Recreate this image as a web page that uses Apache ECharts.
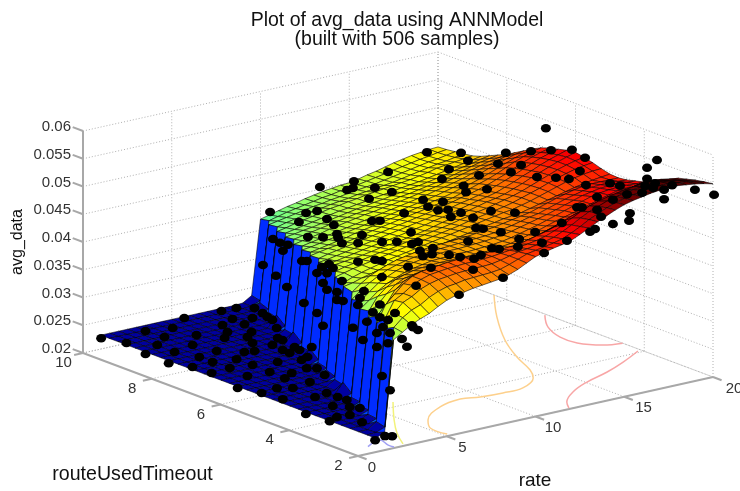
<!DOCTYPE html>
<html><head><meta charset="utf-8">
<style>html,body{margin:0;padding:0;background:#fff}#c{width:740px;height:491px}</style>
<script src="https://cdn.jsdelivr.net/npm/echarts@6/dist/echarts.min.js"></script>
</head><body><div id="c"></div>
<script>
const rateTicks=[0,5,10,15,20];
const timeoutTicks=[2,4,6,8,10];
const valueTicks=[0.02,0.025,0.03,0.035,0.04,0.045,0.05,0.055,0.06];
const rates=[1,1.5,2,2.5,3,3.5,4,4.5,5,5.5,6,6.5,7,7.5,8,8.5,9,9.5,10,10.5,11,11.5,12,12.5,13,13.5,14,14.5,15,15.5,16,16.5,17,17.5,18,18.5,19,19.5,20];
const timeouts=[2,2.25,2.5,2.75,3,3.25,3.5,3.75,4,4.25,4.5,4.75,5,5.25,5.5,5.75,6,6.25,6.5,6.75,7,7.25,7.5,7.75,8,8.25,8.5,8.75,9,9.25,9.5,9.75,10];
// avg_data x 10000, one row per timeout, one column per rate
const surfaceE4=[
[225,232,395,405,415,422,428,437,445,450,453,456,458,460,462,466,472,480,488,492,496,499,503,510,518,526,533,540,546,550,553,556,558,559,559,557,555,552,548],
[225,226,232,408,422,432,438,448,455,460,462,465,466,467,468,470,475,481,487,490,493,496,500,507,515,524,531,538,544,548,551,554,556,557,557,555,553,549,546],
[225,225,236,400,425,440,447,457,463,467,469,471,472,473,473,474,477,481,485,487,490,493,497,504,512,521,529,535,541,545,548,551,553,554,554,552,549,546,543],
[225,225,226,232,410,438,447,458,465,470,472,474,475,476,476,477,478,480,482,484,486,489,493,499,506,515,523,530,535,539,542,545,547,549,549,547,544,541,539],
[225,225,226,234,395,425,440,455,465,470,472,474,476,477,477,477,477,478,478,479,480,484,488,492,497,504,510,515,518,520,522,527,532,538,542,542,540,537,535],
[225,225,225,226,232,398,415,438,450,456,459,461,462,463,463,463,463,463,464,465,466,468,472,477,483,488,493,498,502,505,508,513,519,524,529,529,528,524,522],
[225,225,225,225,236,390,408,425,438,446,449,452,453,454,455,455,455,455,456,456,457,459,462,466,470,475,480,485,489,492,496,501,506,511,516,517,515,513,512],
[225,225,225,225,226,232,392,415,428,438,443,447,449,450,451,451,451,451,452,452,453,455,457,461,465,469,474,479,483,487,491,496,501,505,509,510,509,508,507],
[225,225,225,225,226,234,390,402,415,425,432,438,442,445,448,449,449,450,450,451,452,453,455,458,462,466,470,475,480,485,490,495,500,503,505,506,506,505,505],
[225,225,225,225,225,226,232,395,408,420,428,435,440,443,446,448,449,450,450,451,452,453,455,457,460,464,468,472,476,481,486,491,496,499,502,503,503,502,501],
[225,225,225,225,225,226,246,392,405,415,424,431,436,440,443,445,447,448,449,450,451,452,453,455,458,461,465,469,472,477,482,487,491,495,498,499,499,498,497],
[225,225,225,225,225,225,226,232,396,408,418,425,431,436,439,442,444,446,447,448,449,450,452,454,456,459,462,465,468,473,478,483,487,491,494,495,495,495,495],
[225,225,225,225,225,225,226,236,400,403,408,412,415,418,422,425,428,431,434,437,440,443,446,449,452,455,458,460,462,466,470,474,478,482,486,489,492,494,496],
[225,225,225,225,225,225,225,226,232,398,404,409,413,417,421,424,427,430,433,436,439,442,445,448,451,454,457,460,462,466,470,475,480,485,490,494,497,499,500],
[225,225,225,225,225,225,225,226,238,402,406,410,413,416,419,422,425,428,430,433,436,439,442,445,449,452,455,458,461,465,470,475,480,486,491,496,500,503,505],
[225,225,225,225,225,225,225,225,226,232,403,407,410,413,416,419,421,424,427,430,433,436,439,442,446,449,453,456,460,464,468,473,479,485,491,497,502,506,509],
[225,225,225,225,225,225,225,225,226,236,404,406,408,410,412,415,418,420,422,425,428,431,435,439,442,446,450,454,458,461,465,471,477,484,490,496,502,507,512],
[225,225,225,225,225,225,225,225,225,226,232,400,403,406,409,412,415,418,420,423,426,429,432,436,439,443,447,451,455,458,462,468,474,481,487,494,500,505,510],
[225,225,225,225,225,225,225,225,225,226,246,398,400,403,406,409,412,415,418,421,424,427,430,433,436,440,444,448,451,455,459,465,471,477,484,491,497,502,506],
[225,225,225,225,225,225,225,225,225,225,226,232,396,400,403,406,409,412,415,418,421,424,427,430,433,437,441,444,448,452,456,461,467,473,480,487,493,498,502],
[225,225,225,225,225,225,225,225,225,225,226,234,395,398,401,403,405,408,412,415,418,421,424,427,430,433,436,439,442,447,452,457,462,468,475,482,488,493,497],
[225,225,225,225,225,225,225,225,225,225,225,226,232,392,395,398,401,404,408,411,414,417,420,423,426,429,432,435,438,442,447,451,456,462,468,474,480,485,489],
[225,225,225,225,225,225,225,225,225,225,225,226,246,390,392,395,398,401,404,407,410,413,416,419,422,425,428,431,434,438,442,446,451,456,462,467,472,477,480],
[225,225,225,225,225,225,225,225,225,225,225,225,226,232,388,391,394,397,400,403,406,409,412,415,418,421,424,427,430,434,437,441,445,450,455,459,464,468,471],
[225,225,225,225,225,225,225,225,225,225,225,225,226,235,385,388,391,394,398,401,404,407,410,412,415,417,420,423,426,429,432,436,440,444,448,452,456,459,462],
[225,225,225,225,225,225,225,225,225,225,225,225,225,226,232,385,388,391,394,397,400,403,406,408,411,413,416,419,421,424,427,430,433,437,441,445,449,452,455],
[225,225,225,225,225,225,225,225,225,225,225,225,225,226,246,383,385,388,390,393,396,399,402,405,407,410,412,415,417,420,422,425,428,431,435,438,441,445,448],
[225,225,225,225,225,225,225,225,225,225,225,225,225,225,226,232,381,384,387,390,393,396,399,401,404,406,409,411,413,416,418,420,423,426,429,432,435,438,441],
[225,225,225,225,225,225,225,225,225,225,225,225,225,225,226,236,378,381,385,388,391,395,398,400,403,405,408,410,412,414,416,418,421,424,428,430,432,434,436],
[225,225,225,225,225,225,225,225,225,225,225,225,225,225,225,226,232,377,381,384,387,390,393,396,398,400,403,405,407,409,411,414,417,420,423,426,428,431,434],
[225,225,225,225,225,225,225,225,225,225,225,225,225,225,225,226,238,375,378,381,384,387,390,392,395,397,400,402,404,406,409,412,415,418,421,424,426,429,432],
[225,225,225,225,225,225,225,225,225,225,225,225,225,225,225,225,226,232,373,377,381,384,387,390,393,395,398,400,402,405,408,411,414,417,420,423,425,428,430],
[225,225,225,225,225,225,225,225,225,225,225,225,225,225,225,225,226,236,370,374,378,382,385,389,392,395,397,399,400,403,407,410,414,418,421,424,426,428,429]
];
// samples near the floor: [rate, timeout, avg_data x 10000]
const floorSamples=[[0.73,9.85,225],[1.17,9.34,225],[2.98,9.72,225],[2.07,8.91,225],[0.81,8.6,225],[4.22,9.57,225],[3.08,9.22,225],[5.57,9.93,225],[4.4,8.97,225],[2.02,8.38,225],[3.31,8.52,225],[7.55,9.87,225],[8.35,9.85,225],[7.18,9.36,225],[6.25,9.17,225],[7.12,8.98,225],[9,9.66,225],[7.98,9.19,225],[8.8,9.32,225],[8.6,9.08,225],[8.5,8.88,225],[7.89,8.44,225],[5.78,8.78,225],[6.63,8.52,225],[5.11,8.52,225],[6.01,8.32,225],[5.62,7.97,225],[3.6,7.97,225],[2.43,7.87,225],[4.48,7.62,225],[4.94,7.56,225],[6.14,7.66,225],[6.98,7.94,225],[6.96,7.79,225],[6.02,7.3,225],[5.99,7.08,225],[6.73,7.32,225],[6.62,7.12,225],[7.33,7.13,225],[0.76,7.9,225],[1.23,7.45,225],[1.34,6.95,225],[2.42,7.48,225],[2.46,7,225],[3.54,7.36,225],[0.85,5.94,225],[2.33,6.42,225],[1.23,5.44,225],[3.49,6.37,225],[3.55,6.9,225],[4.71,6.77,225],[2.23,5.51,225],[1.4,4.91,225],[3.45,5.91,225],[4.17,6.08,225],[5.75,6.61,225],[6.24,6.69,225],[5.17,6.16,225],[5.53,6.05,225],[5.15,5.63,225],[2.8,5.34,225],[3.97,5.45,225],[0.8,3.93,225],[0.98,3.33,225],[2.73,4.66,225],[3.52,4.73,225],[3.54,4.42,225],[2.51,4.03,225],[3.57,4.17,225],[3.02,3.8,225],[1.62,3.45,225],[2.27,3.41,225],[3.28,3.64,225],[2.03,2.93,225],[0.79,1.91,225],[1.52,2,225],[1.77,1.92,225]];
// samples along the step where rate meets timeout
const stepSamples=[[9.25,9.25,357],[8.83,8.83,363],[8.35,8.35,374],[8.65,8.65,354],[9.85,9.85,292],[9.07,9.07,296],[8.41,8.41,296],[7.51,7.51,370],[7.21,7.21,379],[6.3,6.3,396],[5.88,5.88,414],[5.64,5.64,414],[6.6,6.6,376],[6,6,394],[6.24,6.24,369],[5.1,5.1,407],[6,6,364],[5.4,5.4,378],[5.4,5.4,364],[5.04,5.04,373],[7.39,7.39,298],[6.6,6.6,304],[6.24,6.24,292],[4.44,4.44,343],[3.84,3.84,339],[3,3,352],[2.33,2.33,379],[2.63,2.63,399],[3,3,377],[2.21,2.21,401],[2.69,2.69,309],[2.21,2.21,298],[3.6,3.6,379],[4.02,4.02,409],[4.14,4.14,393],[3.78,3.78,429],[3.24,3.24,407],[2.82,2.82,411],[2.33,2.33,421],[2.82,2.82,434],[1.91,1.91,446]];
// samples on and around the upper sheet
const upperSamples=[[11.41,9,441],[10.54,10,379],[13.33,9,438],[12.94,9,425],[13.27,9,426],[15.25,9,441],[13.54,8.5,436],[13.53,8,440],[12.24,8,437],[10.63,9,400],[11.25,9,399],[9.26,8.5,405],[10.84,8.5,399],[10.26,8,404],[10.92,7,430],[10.47,7,433],[9.47,7.5,405],[8.8,8,393],[8.68,7.5,405],[9.53,7.5,398],[8.78,7,405],[8.94,6.5,430],[7.75,6,436],[9.1,6,428],[8.97,5.5,441],[5.81,5,439],[6.77,5,436],[7.16,5,431],[5.22,4,439],[19.3,6.5,549],[19.38,10,424],[19.36,9,446],[19.75,9,429],[19.95,8,465],[19.43,7,495],[19.59,6.5,507],[19.8,6,518],[19.57,5.5,517],[19.75,3.5,558],[19.19,3.5,548],[19.19,3.5,528],[19.64,3.5,517],[19.08,3.5,516],[18.91,3.5,505],[19.53,3.5,509],[19.18,3,520],[19.63,3,525],[19.95,2.5,526],[20.06,2,528],[19.18,3,503],[19.03,4,490],[18.63,4,508],[19.04,4.5,498],[17.34,4,497],[18.65,5,486],[18.66,5.5,485],[18.9,6,474],[19.28,5.5,495],[17.83,6,483],[18.87,7,474],[18.3,7,465],[18.54,7.5,467],[17.47,7.5,454],[17.71,8.5,440],[17.32,8.5,425],[16.6,7.5,441],[15.77,7,447],[16.95,7,444],[14.32,7.5,432],[14.47,7,439],[13.63,7,436],[14.19,7,426],[13.79,6.5,441],[13.95,6.5,427],[13.55,6,449],[15.24,6,440],[15.62,5.5,446],[14.23,6,435],[13.43,5.5,434],[13.82,5.5,430],[13.86,5,435],[14.82,4.5,440],[13.92,4.5,434],[12.01,5,432],[12.39,4.5,428],[12.79,4.5,424],[12.88,4,439],[13.27,3.5,455],[12.42,3,454],[13.71,3,467],[15.36,4,464],[17.18,4.5,468],[17.46,4.5,466],[17.34,4,474],[16.6,3.5,478],[16.3,3,479],[15.01,3,474],[15.29,3,477],[16.29,2.5,510],[15.27,2,515],[17.27,3.5,504],[10.73,6,434],[12.28,7,434],[9.82,5.5,431],[10.16,5.5,432],[9.3,5,434],[10.03,5,434],[9.47,5,423],[9.98,5,423],[9.97,4.5,433],[10.59,4.5,425],[10.41,4,435],[10.8,4,439],[7.98,4,436],[6.69,4,447],[7.45,2.5,471],[4.24,2.5,465],[8.17,2,463],[5.69,2,450],[3.38,2,403],[3.1,2,410],[2.48,2,393],[2.76,2,377],[3.04,2,414]];
// contour lines on the floor: [rate, timeout]
const contourOrange=[[20,8.37],[18.03,7.27],[16.14,6.06],[14.96,5.1],[14.19,4.32],[13.55,3.9],[12.25,3.53],[11.07,3.5],[9.88,3.55],[8.99,3.67],[7.53,3.5],[5.86,2.99],[5.19,2.58],[5.22,2.1]];
const contourPinkBack=[[19.9,6.84],[18.88,6.22],[18.36,5.6],[18.41,5.13],[19.13,4.75],[20,4.63]];
const contourPinkFront=[[19.8,4.08],[18.23,3.7],[16.73,3.39],[15.07,3.12],[13.64,2.79],[12.48,2.37],[11.98,2.05]];
const contourYellow=[[6.33,4.25],[4.67,3.36],[3.55,2.7],[2.73,2.1]];
const contourBlue=[[1.24,2.35],[2.29,2.54],[2.09,2.2],[2.13,2.05]];

const VMIN=0.02, VMAX=0.06, CMIN=215, CMAX=545;
function project(rate,timeout,value){
  const a=rate/20,u=(timeout-2)/8,h=(value-VMIN)/(VMAX-VMIN);
  return [358+355*a-275*u,456-79*a-103*u-222*h];
}
function jet(n){
  const c=v=>Math.round(255*Math.max(0,Math.min(1,v)));
  return 'rgb('+c(Math.min(4*n-1.5,-4*n+4.5))+','+c(Math.min(4*n-0.5,-4*n+3.5))+','+c(Math.min(4*n+0.5,-4*n+2.5))+')';
}
// a face takes the colour of its first corner; faces on the step are lifted to the blues of the wall
function faceColour(i,j){
  const first=surfaceE4[i][j];
  const all=[first,surfaceE4[i][j+1],surfaceE4[i+1][j],surfaceE4[i+1][j+1]];
  const tall=Math.max.apply(null,all)-Math.min.apply(null,all)>60;
  const v=(tall&&first<300)?246+(first-225)*3.5:first;
  return jet((v-CMIN)/(CMAX-CMIN));
}
const cells=[];
for(let i=timeouts.length-2;i>=0;i--)for(let j=rates.length-2;j>=0;j--)cells.push([i,j]);

const RMAX=rateTicks[rateTicks.length-1],TMIN=timeoutTicks[0],TMAX=timeoutTicks[timeoutTicks.length-1],RMIN=rateTicks[0];
const gridLines=[];
valueTicks.forEach(v=>{gridLines.push([[RMIN,TMAX,v],[RMAX,TMAX,v]]);gridLines.push([[RMAX,TMAX,v],[RMAX,TMIN,v]]);});
rateTicks.forEach(r=>{gridLines.push([[r,TMAX,VMIN],[r,TMAX,VMAX]]);gridLines.push([[r,TMIN,VMIN],[r,TMAX,VMIN]]);});
timeoutTicks.forEach(t=>{gridLines.push([[RMAX,t,VMIN],[RMAX,t,VMAX]]);gridLines.push([[RMIN,t,VMIN],[RMAX,t,VMIN]]);});
const axisLines=[[[RMIN,TMAX,VMIN],[RMIN,TMAX,VMAX]],[[RMIN,TMIN,VMIN],[RMIN,TMAX,VMIN]],[[RMIN,TMIN,VMIN],[RMAX,TMIN,VMIN]]];
valueTicks.forEach(v=>axisLines.push([[RMIN,TMAX,v],[RMIN,TMAX+0.3,v]]));
timeoutTicks.forEach(t=>axisLines.push([[RMIN,t,VMIN],[RMIN-0.5,t,VMIN]]));
rateTicks.forEach(r=>axisLines.push([[r,TMIN,VMIN],[r,TMIN-0.25,VMIN]]));

const tickLabels=[];
valueTicks.forEach(v=>tickLabels.push({p:[RMIN,TMAX,v],s:String(v),dx:-12,dy:-4,al:'right'}));
timeoutTicks.forEach(t=>tickLabels.push({p:[RMIN,t,VMIN],s:String(t),dx:-19.5,dy:10,al:'center'}));
rateTicks.forEach(r=>tickLabels.push({p:[r,TMIN,VMIN],s:String(r),dx:14+0.35*r,dy:11.5,al:'center'}));

function segSeries(lines,style,z){
  return {type:'custom',coordinateSystem:'cartesian2d',silent:true,z:z,clip:false,animation:false,
    data:lines.map((l,i)=>[i,0]),
    renderItem:(params,api)=>{
      const l=lines[api.value(0)],a=api.coord(project(l[0][0],l[0][1],l[0][2])),b=api.coord(project(l[1][0],l[1][1],l[1][2]));
      return {type:'line',shape:{x1:a[0],y1:a[1],x2:b[0],y2:b[1]},style:style};
    }};
}
function contour(pts,color){
  return {type:'line',smooth:0.4,symbol:'none',silent:true,z:2,animation:false,lineStyle:{color:color,width:1.5},
    data:pts.map(p=>project(p[0],p[1],VMIN))};
}
const samples=floorSamples.concat(stepSamples,upperSamples);
const option={
  animation:false,backgroundColor:'#fff',
  grid:{left:0,right:0,top:0,bottom:0},
  xAxis:{type:'value',min:0,max:740,show:false},
  yAxis:{type:'value',min:0,max:491,inverse:true,show:false},
  title:{text:'Plot of avg_data using ANNModel\n(built with 506 samples)',left:392,top:6,textAlign:'center',
    textStyle:{fontFamily:'Liberation Sans',fontSize:19.5,fontWeight:'normal',color:'#111',lineHeight:19}},
  graphic:[
    {type:'text',x:18,y:242,rotation:Math.PI/2,style:{text:'avg_data',font:'16px "Liberation Sans"',fill:'#111',align:'center',verticalAlign:'middle'}},
    {type:'text',x:132.5,y:475,style:{text:'routeUsedTimeout',font:'19.6px "Liberation Sans"',fill:'#111',align:'center',verticalAlign:'middle'}},
    {type:'text',x:535,y:481,style:{text:'rate',font:'19px "Liberation Sans"',fill:'#111',align:'center',verticalAlign:'middle'}}
  ],
  series:[
    segSeries(gridLines,{stroke:'#b0b0b0',lineWidth:1,lineDash:[1,2]},1),
    segSeries(axisLines,{stroke:'#a8a8a8',lineWidth:2},1),
    contour(contourOrange,'#fdd08c'),
    contour(contourPinkBack,'#f8a6a6'),
    contour(contourPinkFront,'#f8a6a6'),
    contour(contourYellow,'#f2f27a'),
    contour(contourBlue,'#a0a0f4'),
    {type:'custom',coordinateSystem:'cartesian2d',silent:true,z:3,clip:false,animation:false,
      data:cells,
      renderItem:(params,api)=>{
        const i=api.value(0),j=api.value(1);
        const pts=[[i,j],[i,j+1],[i+1,j+1],[i+1,j]].map(c=>api.coord(project(rates[c[1]],timeouts[c[0]],surfaceE4[c[0]][c[1]]*1e-4)));
        return {type:'polygon',shape:{points:pts},style:{fill:faceColour(i,j),stroke:'rgba(0,0,0,0.7)',lineWidth:0.8}};
      }},
    {type:'scatter',symbol:'circle',symbolSize:[10,8.5],silent:true,z:4,animation:false,itemStyle:{color:'#000',opacity:1},
      data:samples.map(s=>project(s[0],s[1],s[2]*1e-4))},
    {type:'custom',coordinateSystem:'cartesian2d',silent:true,z:5,clip:false,animation:false,
      data:tickLabels.map((l,i)=>[i,0]),
      renderItem:(params,api)=>{
        const l=tickLabels[api.value(0)],a=api.coord(project(l.p[0],l.p[1],l.p[2]));
        return {type:'text',x:a[0]+l.dx,y:a[1]+l.dy,style:{text:l.s,font:'15px "Liberation Sans"',fill:'#333',align:l.al,verticalAlign:'middle'}};
      }}
  ]
};
echarts.init(document.getElementById('c')).setOption(option);
</script></body></html>
